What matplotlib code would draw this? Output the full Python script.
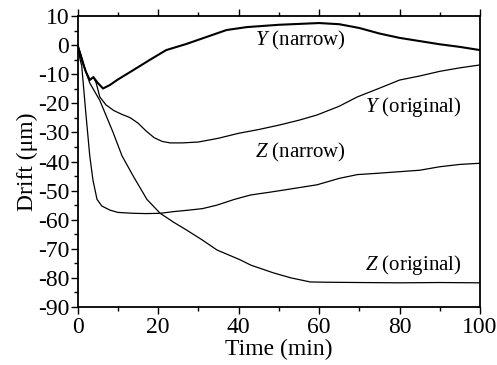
import matplotlib
matplotlib.use("Agg")
import matplotlib.pyplot as plt
from matplotlib.ticker import MultipleLocator

plt.rcParams['font.family'] = ['Liberation Serif', 'DejaVu Serif']
plt.rcParams['mathtext.fontset'] = 'custom'
plt.rcParams['mathtext.rm'] = 'Liberation Serif'
plt.rcParams['mathtext.it'] = 'Liberation Serif:italic'
plt.rcParams['axes.unicode_minus'] = False

# Y (narrow)
t_yn = [0, 1, 2, 3, 3.9, 5, 6.3, 8, 10, 13.8, 18, 22, 27, 32, 37, 42, 50, 55, 60, 65, 70, 75, 80, 85, 90, 95, 100]
v_yn = [0, -5, -9, -12, -11, -13, -14.9, -13.7, -11.8, -8.6, -5, -1.7, 0.4, 2.8, 5.2, 6.2, 7.0, 7.3, 7.6, 7.2, 5.9, 4.0, 2.5, 1.4, 0.3, -0.6, -1.7]

# Y (original)
t_yo = [0, 1, 2, 3, 3.9, 4.6, 5.5, 7, 9, 11, 13, 15, 17, 19, 21, 23, 26, 30, 35, 40, 45, 50, 55, 59.5, 65, 69.5, 75, 80, 85, 90, 95, 100]
v_yo = [0, -5, -9, -12, -11, -13, -17.8, -20.5, -22.5, -23.8, -24.9, -26.8, -29.5, -31.8, -33.1, -33.6, -33.6, -33.3, -32, -30.3, -29, -27.5, -25.8, -24, -21, -17.8, -14.8, -12, -10.6, -9, -7.8, -6.8]

# Z (narrow)
t_zn = [0, 0.6, 1, 2, 3, 3.8, 4.8, 6, 8, 10, 13.8, 17, 20.5, 24, 27, 31, 34.6, 39, 43, 48, 54, 59.5, 65, 69.5, 75, 80, 85, 90, 95, 100]
v_zn = [0, -5, -7, -23, -38, -46.4, -53, -55.3, -56.7, -57.5, -57.8, -57.9, -57.8, -57.2, -56.8, -56.2, -55, -53, -51.5, -50.5, -49.2, -48, -45.8, -44.5, -44, -43.5, -43, -41.8, -41, -40.6]

# Z (original)
t_zo = [0, 1, 2, 3, 5.5, 8.8, 11, 13.8, 17.2, 20.5, 24, 27, 31, 34.6, 40.4, 43, 48.7, 53, 57.8, 62, 70, 80, 90, 100]
v_zo = [0, -4, -9, -13, -19, -30, -38, -45, -53, -57.8, -61, -63.5, -67, -70.4, -73.8, -75.6, -78.3, -80, -81.4, -81.5, -81.6, -81.7, -81.6, -81.7]

labels = [r'$\mathit{Y}$ (narrow)', r'$\mathit{Y}$ (original)', r'$\mathit{Z}$ (narrow)', r'$\mathit{Z}$ (original)']
label_pos = [(44, 1.5), (71.5, -21.3), (44, -37), (71.5, -75.6)]

xticks = [0, 20, 40, 60, 80, 100]
yticks = [10, 0, -10, -20, -30, -40, -50, -60, -70, -80, -90]

fig = plt.figure(figsize=(4.97, 3.65), dpi=100)
ax = fig.add_axes([0.1563, 0.159, 0.8095, 0.797])

ax.plot(t_yn, v_yn, color='black', lw=1.5)
ax.plot(t_yo, v_yo, color='black', lw=0.9)
ax.plot(t_zn, v_zn, color='black', lw=0.9)
ax.plot(t_zo, v_zo, color='black', lw=0.9)

for lab, (x, y) in zip(labels, label_pos):
    ax.text(x, y, lab, fontsize=15, va='center', ha='left')

ax.set_xlim(0, 100)
ax.set_ylim(-90, 10)
ax.set_xticks(xticks)
ax.set_yticks(yticks)
ax.xaxis.set_minor_locator(MultipleLocator(10))
ax.yaxis.set_minor_locator(MultipleLocator(5))
ax.tick_params(axis='both', which='both', direction='out', labelsize=17, width=1.0)
ax.tick_params(axis='x', which='both', top=True, bottom=True)
ax.tick_params(axis='y', which='both', left=True, right=False)
ax.tick_params(which='major', length=5)
ax.tick_params(which='minor', length=3)
ax.tick_params(axis='x', pad=2)
ax.tick_params(axis='y', pad=1)
for s in ax.spines.values():
    s.set_linewidth(1.3)

ax.set_xlabel('Time (min)', fontsize=17, labelpad=1)
ax.set_ylabel('Drift (μm)', fontsize=17, labelpad=0)

fig.savefig('out.png', dpi=100)
